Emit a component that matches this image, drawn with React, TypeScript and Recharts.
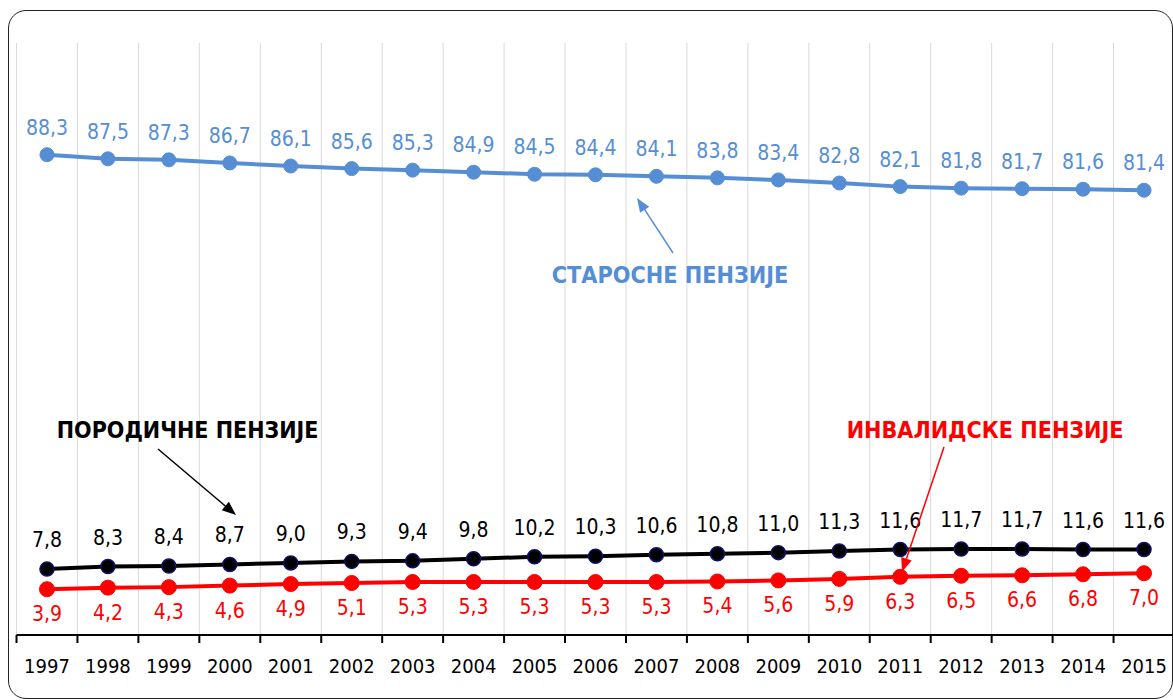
import React from 'react';
import { LineChart, Line, XAxis, YAxis, CartesianGrid, LabelList } from 'recharts';

const years = ['1997', '1998', '1999', '2000', '2001', '2002', '2003', '2004', '2005', '2006', '2007', '2008', '2009', '2010', '2011', '2012', '2013', '2014', '2015'];
const oldAge = [88.3, 87.5, 87.3, 86.7, 86.1, 85.6, 85.3, 84.9, 84.5, 84.4, 84.1, 83.8, 83.4, 82.8, 82.1, 81.8, 81.7, 81.6, 81.4];
const family = [7.8, 8.3, 8.4, 8.7, 9.0, 9.3, 9.4, 9.8, 10.2, 10.3, 10.6, 10.8, 11.0, 11.3, 11.6, 11.7, 11.7, 11.6, 11.6];
const disability = [3.9, 4.2, 4.3, 4.6, 4.9, 5.1, 5.3, 5.3, 5.3, 5.3, 5.3, 5.4, 5.6, 5.9, 6.3, 6.5, 6.6, 6.8, 7.0];

const labelOld = 'СТАРОСНЕ ПЕНЗИЈЕ';
const labelFamily = 'ПОРОДИЧНЕ ПЕНЗИЈЕ';
const labelDisability = 'ИНВАЛИДСКЕ ПЕНЗИЈЕ';

const data = years.map((y, i) => ({ year: y, old: oldAge[i], fam: family[i], dis: disability[i] }));

const W = 1190;
const H = 700;
const M = { top: 43, left: 16.5, right: 15.5, bottom: 0 };
const XH = 65;
const PLOT_W = W - M.left - M.right;
const STEP = PLOT_W / years.length;

const BLUE = '#558ED5';
const RED = '#FF0000';
const BLACK = '#000000';
const NAVY = '#10106e';
const FONT = '"DejaVu Sans", Verdana, sans-serif';
const FONT_C = '"DejaVu Sans Condensed", "DejaVu Sans", sans-serif';

const fmt = (v: number) => v.toFixed(1).replace('.', ',');

const makeLabel = (color: string, dy: number) => (props: any) => {
  const x = props.x ?? props.viewBox?.x;
  const y = props.y ?? props.viewBox?.y;
  if (x == null || y == null) return null;
  return (
    <text x={x} y={y + dy} fill={color} fontSize={21} fontFamily={FONT_C} style={{ fontStretch: 'condensed' }} textAnchor="middle" dominantBaseline="central">
      {fmt(Number(props.value))}
    </text>
  );
};

const Tick = (props: any) => {
  const { x, y, payload } = props;
  return (
    <g>
      <line x1={x - STEP / 2} x2={x - STEP / 2} y1={y} y2={y + 8} stroke="#000" strokeWidth={2} />
      <text x={x} y={y + 38} textAnchor="middle" fontSize={20} fontFamily={FONT_C} style={{ fontStretch: 'condensed' }} fill="#000">
        {payload.value}
      </text>
    </g>
  );
};

const Arrow = ({ x1, y1, x2, y2, color }: { x1: number; y1: number; x2: number; y2: number; color: string }) => {
  const dx = x2 - x1;
  const dy = y2 - y1;
  const len = Math.hypot(dx, dy);
  const ux = dx / len;
  const uy = dy / len;
  const hl = 14;
  const hw = 5.5;
  const bx = x2 - ux * hl;
  const by = y2 - uy * hl;
  const pts = `${x2},${y2} ${bx - uy * hw},${by + ux * hw} ${bx + uy * hw},${by - ux * hw}`;
  return (
    <g>
      <line x1={x1} y1={y1} x2={bx} y2={by} stroke={color} strokeWidth={1.5} />
      <polygon points={pts} fill={color} />
    </g>
  );
};

const gridX = () => Array.from({ length: years.length + 1 }, (_, i) => M.left + i * STEP);

export default function App() {
  return (
    <div style={{ position: 'fixed', left: 0, top: 0, width: 1173, height: 700, overflow: 'hidden', background: '#fff' }}>
      <div
        style={{
          position: 'absolute',
          left: 8,
          top: 10,
          width: 1165,
          height: 689,
          border: '1px solid #222',
          borderRadius: 18,
          boxSizing: 'border-box',
        }}
      />
      <div style={{ position: 'absolute', left: 0, top: 0 }}>
        <LineChart width={W} height={H} data={data} margin={M}>
          <CartesianGrid horizontal={false} stroke="#d9d9d9" strokeWidth={1} verticalCoordinatesGenerator={gridX} />
          <XAxis
            dataKey="year"
            height={XH}
            interval={0}
            padding={{ left: STEP / 2, right: STEP / 2 }}
            axisLine={{ stroke: '#000', strokeWidth: 2 }}
            tickLine={false}
            tickSize={0}
            tickMargin={0}
            tick={<Tick />}
          />
          <YAxis hide type="number" domain={[-5, 110]} />
          <Line
            dataKey="old"
            stroke={BLUE}
            strokeWidth={4}
            dot={{ r: 7, fill: BLUE, stroke: BLUE, strokeWidth: 1 }}
            isAnimationActive={false}
          >
            <LabelList dataKey="old" content={makeLabel(BLUE, -27)} />
          </Line>
          <Line
            dataKey="fam"
            stroke={BLACK}
            strokeWidth={4}
            dot={{ r: 7, fill: BLACK, stroke: NAVY, strokeWidth: 1.5 }}
            isAnimationActive={false}
          >
            <LabelList dataKey="fam" content={makeLabel(BLACK, -29)} />
          </Line>
          <Line
            dataKey="dis"
            stroke={RED}
            strokeWidth={4}
            dot={{ r: 7.5, fill: RED, stroke: RED, strokeWidth: 1 }}
            isAnimationActive={false}
          >
            <LabelList dataKey="dis" content={makeLabel(RED, 25)} />
          </Line>
        </LineChart>
      </div>
      <svg width={1173} height={700} style={{ position: 'absolute', left: 0, top: 0, pointerEvents: 'none' }}>
        <text x={551.7} y={283.3} fill={BLUE} fontSize={23} fontWeight="bold" fontFamily={FONT} textLength={236.7} lengthAdjust="spacingAndGlyphs">
          {labelOld}
        </text>
        <text x={56.7} y={438.3} fill={BLACK} fontSize={23} fontWeight="bold" fontFamily={FONT} textLength={261.7} lengthAdjust="spacingAndGlyphs">
          {labelFamily}
        </text>
        <text x={846.7} y={438.3} fill={RED} fontSize={23} fontWeight="bold" fontFamily={FONT} textLength={276.7} lengthAdjust="spacingAndGlyphs">
          {labelDisability}
        </text>
        <Arrow x1={673} y1={253} x2={637} y2={198} color={BLUE} />
        <Arrow x1={158} y1={449} x2={236} y2={515} color={BLACK} />
        <Arrow x1={944} y1={447} x2={902} y2={572} color={RED} />
      </svg>
    </div>
  );
}
